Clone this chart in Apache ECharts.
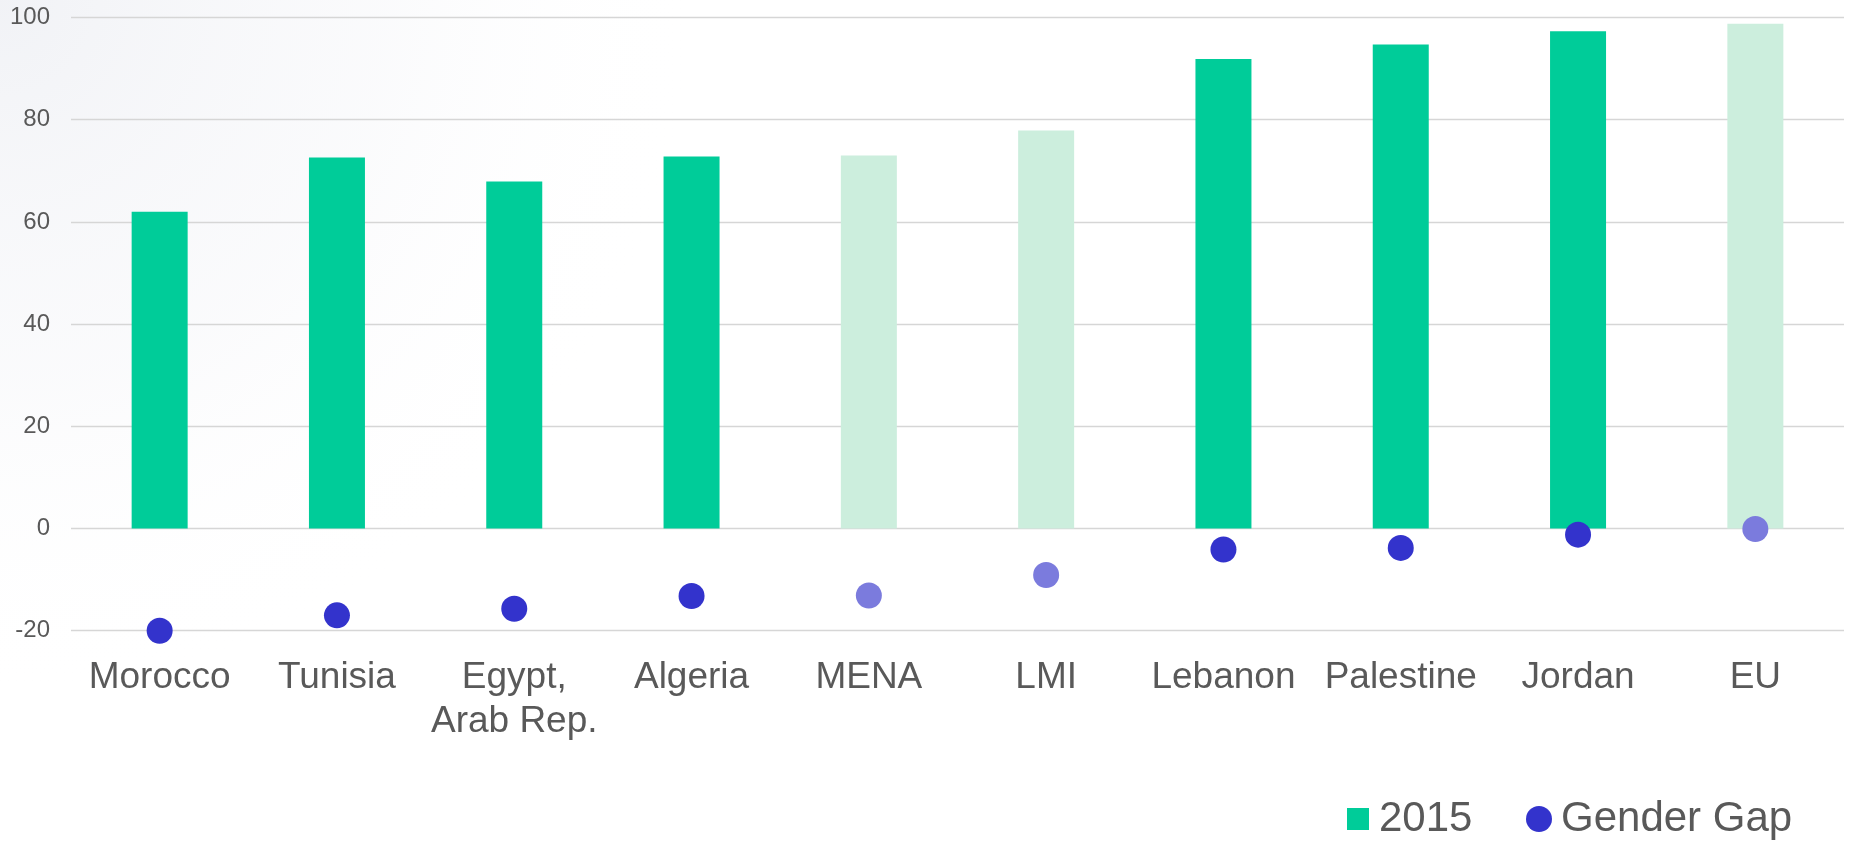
<!DOCTYPE html>
<html>
<head>
<meta charset="utf-8">
<script src="https://cdn.jsdelivr.net/npm/echarts@6/dist/echarts.min.js"></script>
<style>
html,body{margin:0;padding:0;background:#fff;}
#chart{width:1853px;height:842px;}
</style>
</head>
<body>
<div id="chart"></div>
<script>
const categories = ['Morocco', 'Tunisia', 'Egypt,\nArab Rep.', 'Algeria', 'MENA', 'LMI', 'Lebanon', 'Palestine', 'Jordan', 'EU'];
const values2015 = [62, 72.6, 67.9, 72.8, 73.0, 77.9, 91.9, 94.7, 97.3, 98.8];
const genderGap = [-20.0, -17.0, -15.7, -13.2, -13.1, -9.1, -4.1, -3.8, -1.2, -0.1];
const aggregates = ['MENA', 'LMI', 'EU'];
const yTicks = { min: -20, max: 100, interval: 20 };

const isAgg = i => aggregates.indexOf(categories[i]) >= 0;
const FONT = '"Liberation Sans", Arial, sans-serif';
const TXT = '#595959';
const BAR = '#00CC99', BAR_AGG = '#CCEEDD', DOT = '#3333CC', DOT_AGG = '#7B7BDD';

const chart = echarts.init(document.getElementById('chart'), null, { renderer: 'canvas' });
chart.setOption({
  animation: false,
  backgroundColor: '#ffffff',
  textStyle: { fontFamily: FONT },
  graphic: [{
    type: 'rect',
    silent: true,
    z: -10,
    shape: { x: 0, y: 0, width: 900, height: 700 },
    style: {
      fill: new echarts.graphic.RadialGradient(0, 0, 1, [
        { offset: 0, color: 'rgba(232,234,240,0.6)' },
        { offset: 0.55, color: 'rgba(242,243,247,0.35)' },
        { offset: 1, color: 'rgba(255,255,255,0)' }
      ])
    }
  }],
  grid: { left: 71, right: 9, top: 17.5, bottom: 211.3, containLabel: false },
  legend: [
    {
      data: [{ name: '2015', icon: 'rect', itemStyle: { color: BAR } }],
      left: 1347, top: 798,
      itemWidth: 22, itemHeight: 22, itemGap: 10,
      textStyle: { fontSize: 42, color: TXT, fontFamily: FONT, padding: [0, 0, 0, 5] },
      padding: 0, selectedMode: false
    },
    {
      data: [{ name: 'Gender Gap', icon: 'circle', itemStyle: { color: DOT } }],
      left: 1526, top: 798,
      itemWidth: 26, itemHeight: 26, itemGap: 10,
      textStyle: { fontSize: 42, color: TXT, fontFamily: FONT, padding: [0, 0, 0, 4] },
      padding: 0, selectedMode: false
    }
  ],
  xAxis: {
    type: 'category',
    data: categories,
    axisLine: { show: false },
    axisTick: { show: false },
    axisLabel: { color: TXT, fontSize: 37, lineHeight: 44, margin: 25, fontFamily: FONT, interval: 0 }
  },
  yAxis: {
    type: 'value',
    min: yTicks.min, max: yTicks.max, interval: yTicks.interval,
    axisLine: { show: false },
    axisTick: { show: false },
    axisLabel: { color: TXT, fontSize: 24, margin: 21, fontFamily: FONT },
    splitLine: { lineStyle: { color: '#d6d6d6', width: 1.3 } }
  },
  series: [
    {
      name: '2015',
      type: 'bar',
      data: values2015,
      barWidth: 56,
      itemStyle: { color: p => isAgg(p.dataIndex) ? BAR_AGG : BAR },
      z: 2
    },
    {
      name: 'Gender Gap',
      type: 'scatter',
      data: genderGap,
      symbol: 'circle',
      symbolSize: 26,
      itemStyle: { color: p => isAgg(p.dataIndex) ? DOT_AGG : DOT, opacity: 1 },
      z: 3
    }
  ]
});
</script>
</body>
</html>
